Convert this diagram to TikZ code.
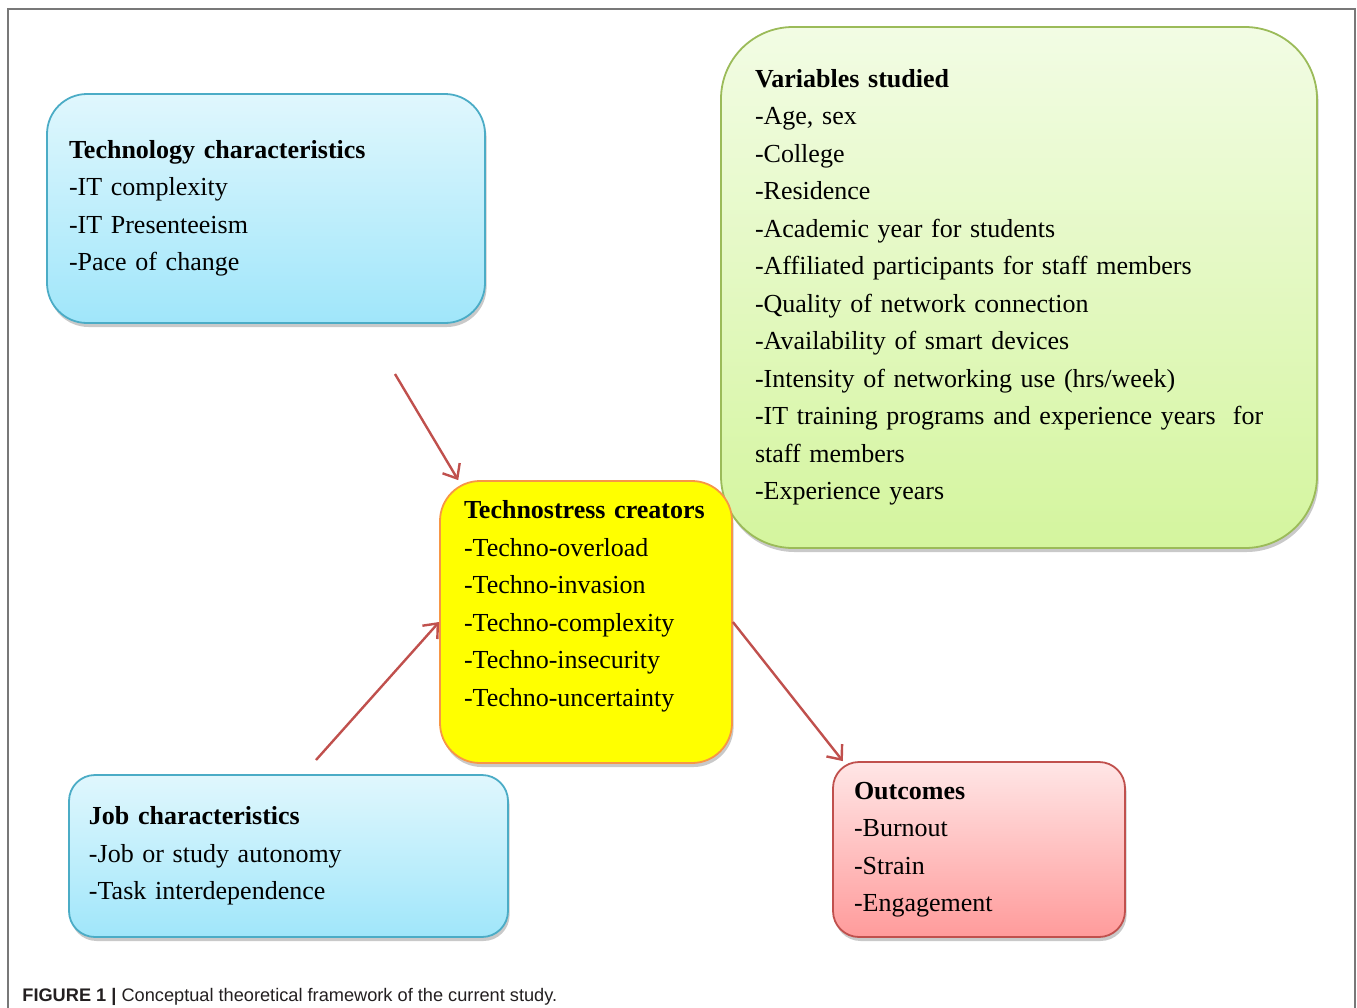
\documentclass[tikz,border=0pt]{standalone}
\usepackage{fontspec}
\setmainfont{Liberation Serif}[WordSpace=0.5]
\newfontfamily\capfont{Liberation Sans}
\usetikzlibrary{arrows.meta,shadows}

\definecolor{frameGray}{RGB}{120,120,120}
\definecolor{blueTop}{RGB}{224,247,253}
\definecolor{blueBot}{RGB}{160,230,250}
\definecolor{blueLine}{RGB}{75,172,198}
\definecolor{greenTop}{RGB}{242,252,228}
\definecolor{greenBot}{RGB}{212,245,158}
\definecolor{greenLine}{RGB}{155,187,89}
\definecolor{stressFill}{RGB}{255,255,0}
\definecolor{stressLine}{RGB}{247,150,70}
\definecolor{redTop}{RGB}{255,230,230}
\definecolor{redBot}{RGB}{255,155,155}
\definecolor{redLine}{RGB}{192,80,77}
\definecolor{captionInk}{RGB}{35,31,32}

\begin{document}
\begin{tikzpicture}[x=0.5pt,y=-0.5pt,
  box/.style={draw, line width=0.9pt, align=left, inner ysep=0pt,
    font=\fontsize{13}{18.75}\selectfont,
    drop shadow={shadow xshift=0.8pt, shadow yshift=-2pt, opacity=0.3, fill=black!70}},
  bluebox/.style={box, draw=blueLine, top color=blueTop, bottom color=blueBot},
  link/.style={draw=redLine, line width=1.2pt, -{Straight Barb[length=6pt,width=10pt,line width=1.2pt]}}]
  \useasboundingbox (0,0) rectangle (1357,1008);

  % Frame
  \draw[frameGray, line width=1pt] (8,1008) -- (8,9) -- (1355,9) -- (1355,1008);

  % Boxes
  \node[bluebox, rounded corners=20pt, minimum width=219pt, minimum height=114.5pt,
    inner xsep=11pt, text width=197pt] (tech) at (266,208.5)
    {\textbf{Technology characteristics}\\
     -IT complexity\\
     -IT Presenteeism\\
     -Pace of change};

  \node[box, draw=greenLine, top color=greenTop, bottom color=greenBot,
    rounded corners=36pt, minimum width=298pt, minimum height=260.5pt,
    inner xsep=17pt, text width=264pt] (vars) at (1019,287.5)
    {\textbf{Variables studied}\\
     -Age, sex\\
     -College\\
     -Residence\\
     -Academic year for students\\
     -Affiliated participants for staff members\\
     -Quality of network connection\\
     -Availability of smart devices\\
     -Intensity of networking use (hrs/week)\\
     -IT training programs and experience years\ \ for\\
     staff members\\
     -Experience years};

  \node[box, draw=stressLine, fill=stressFill, rounded corners=20pt,
    minimum width=146pt, minimum height=141pt,
    inner xsep=12pt, text width=122pt] (stress) at (586,622)
    {\mbox{\textbf{Technostress creators}}\\
     -Techno-overload\\
     -Techno-invasion\\
     -Techno-complexity\\
     -Techno-insecurity\\
     -Techno-uncertainty\\
     ~};

  \node[bluebox, rounded corners=13pt, minimum width=219.5pt, minimum height=81pt,
    inner xsep=10pt, text width=199.5pt] (job) at (288.5,856)
    {\textbf{Job characteristics}\\
     -Job or study autonomy\\
     -Task interdependence};

  \node[box, draw=redLine, top color=redTop, bottom color=redBot,
    rounded corners=13pt, minimum width=146pt, minimum height=87.5pt,
    inner xsep=10.5pt, text width=125pt] (outcomes) at (979,849.5)
    {\textbf{Outcomes}\\
     -Burnout\\
     -Strain\\
     -Engagement};

  % Arrows
  \coordinate (techEnd) at (395,374);
  \coordinate (jobEnd) at (316,760);
  \draw[link] (techEnd) -- (stress.132);
  \draw[link] (jobEnd) -- (stress.west);
  \draw[link] (stress.east) -- (outcomes.147);

  % Caption
  \node[anchor=base west, inner sep=0pt, text=captionInk,
    font=\capfont\fontsize{9.1}{11}\selectfont] (caption) at (22,1001)
    {\textbf{FIGURE 1 |} Conceptual theoretical framework of the current study.};
\end{tikzpicture}
\end{document}
